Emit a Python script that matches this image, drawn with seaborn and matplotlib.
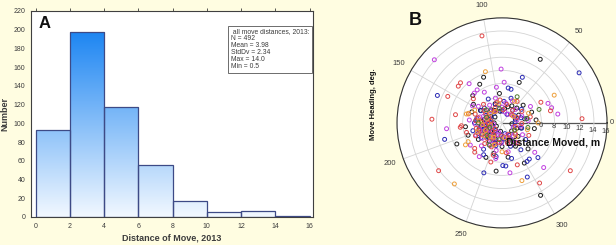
import numpy as np
import pandas as pd
import matplotlib
matplotlib.use('Agg')
import matplotlib.pyplot as plt
from matplotlib.colors import LinearSegmentedColormap
import seaborn as sns

# ---- Panel A: histogram of move distances ----
bin_edges = [0, 2, 4, 6, 8, 10, 12, 14, 16]
bin_counts = [93, 198, 117, 55, 17, 5, 6, 1]
stats_text = (" all move distances, 2013:\nN = 492\nMean = 3.98\n"
              "StdDv = 2.34\nMax = 14.0\nMin = 0.5")

# ---- Panel B: heading (deg) and distance (m) per group ----
black_head = [59, 298, 263, 299, 205, 186, 120, 112, 67, 137, 147,
              10, 25, 40, 60, 80, 95, 110, 130, 150, 165, 175, 190, 200, 215, 225, 240,
              255, 270, 285, 300, 320, 340, 355, 180, 230, 5, 20, 350, 200, 160, 245, 280, 315,
              150, 170, 185, 195, 205, 220, 235, 250, 140, 120, 100, 70, 45, 15, 345, 320,
              300, 275, 260, 210, 190, 175]
black_dist = [11.3, 12.5, 7.4, 7.0, 7.6, 5.6, 6.8, 7.5, 6.7, 6.1, 5.2,
              3.5, 2.8, 4.2, 3.0, 2.2, 4.5, 3.1, 2.6, 3.8, 2.1, 4.0, 3.3, 2.5, 4.4, 3.0, 2.3,
              4.8, 3.6, 2.9, 4.1, 3.2, 2.4, 1.5, 1.2, 1.8, 5.2, 4.8, 5.0, 5.5, 4.9, 5.8, 5.3, 5.6,
              2.0, 2.8, 1.6, 3.6, 2.9, 2.2, 3.4, 2.7, 1.4, 2.2, 1.8, 2.6, 3.2, 2.1, 3.0, 1.9,
              3.0, 2.2, 1.3, 1.0, 2.4, 3.2]

blue_head = [33, 66, 75, 157, 196, 250, 271, 275, 295, 303, 307, 316, 204,
             15, 35, 50, 70, 85, 100, 120, 140, 155, 170, 185, 195, 210, 220, 235, 250,
             260, 275, 290, 305, 325, 345, 5, 60, 130, 200, 265, 300, 240, 285, 80,
             160, 178, 190, 205, 215, 230, 245, 255, 268, 285, 300, 320, 340, 10, 30,
             90, 110, 135, 150, 225, 180, 200]
blue_dist = [14.0, 7.6, 5.3, 10.7, 9.1, 8.1, 6.5, 6.6, 9.1, 7.0, 6.9, 7.6, 4.0,
             3.0, 3.6, 2.5, 4.0, 3.3, 2.8, 4.2, 3.5, 2.7, 3.9, 2.2, 4.6, 3.4, 2.6, 4.9, 3.2,
             5.2, 2.4, 3.8, 5.0, 4.4, 3.1, 2.0, 1.5, 1.9, 1.6, 1.9, 2.2, 5.6, 5.6, 5.4,
             1.8, 2.5, 3.1, 2.0, 3.9, 1.5, 2.8, 3.6, 2.9, 1.7, 3.0, 2.6, 1.9, 3.9, 2.2,
             1.8, 3.0, 2.6, 3.7, 3.1, 4.2, 2.8]

magenta_head = [137, 91, 130, 99, 87, 23, 17, 9, 133, 127, 186, 236, 279, 313, 318,
                5, 20, 45, 65, 90, 105, 125, 145, 160, 172, 183, 195, 208, 218, 228, 238,
                248, 258, 268, 282, 295, 310, 330, 350, 150, 120, 215, 175, 260, 30, 75, 250, 190,
                155, 165, 180, 200, 212, 222, 232, 242, 252, 275, 290, 305, 320, 340, 10,
                35, 55, 80, 115, 135, 188, 205]
magenta_dist = [14.1, 8.2, 7.8, 5.5, 6.2, 7.6, 7.9, 8.6, 6.2, 6.3, 8.5, 6.2, 7.7, 9.3, 6.7,
                4.0, 3.2, 2.9, 3.7, 2.4, 3.9, 3.3, 4.4, 3.0, 2.6, 4.1, 3.0, 2.2, 3.8, 4.7, 3.2,
                2.5, 4.3, 3.1, 4.5, 3.4, 2.7, 3.6, 2.9, 5.2, 5.4, 5.9, 5.0, 5.5, 5.0, 1.7, 1.5, 1.3,
                2.2, 3.5, 2.0, 3.6, 2.8, 1.9, 2.6, 3.9, 1.9, 2.3, 2.0, 3.6, 2.5, 1.8, 2.3,
                2.0, 1.6, 3.1, 2.0, 2.6, 3.4, 4.4]

red_head = [103, 217, 302, 325, 3, 177, 154, 140, 136, 170, 28, 14, 186, 184, 227, 223, 254, 290,
            12, 30, 55, 75, 95, 115, 135, 150, 162, 178, 188, 198, 206, 214, 226, 235,
            246, 262, 278, 292, 308, 335, 358, 165, 195, 140, 220, 170, 40, 255,
            145, 158, 168, 182, 192, 203, 210, 218, 230, 240, 252, 268, 285, 300, 320,
            345, 20, 50, 85, 105, 125, 175]
red_dist = [13.6, 12.1, 10.8, 12.7, 12.2, 10.7, 9.2, 8.7, 8.8, 7.2, 6.7, 7.6, 6.4, 6.2, 6.1, 5.7, 6.2, 6.8,
            4.4, 3.5, 4.0, 2.9, 3.5, 2.5, 4.0, 2.9, 4.3, 3.1, 2.5, 3.7, 4.5, 2.9, 3.3, 2.2,
            4.0, 3.0, 4.6, 2.6, 3.9, 4.5, 3.0, 5.3, 5.6, 5.7, 1.4, 1.7, 1.9, 5.1,
            3.3, 2.2, 3.7, 2.1, 4.0, 2.6, 3.6, 1.9, 4.1, 2.7, 3.4, 2.0, 3.2, 2.0, 2.7,
            2.1, 2.4, 2.5, 2.0, 3.2, 2.1, 4.0]

orange_head = [108, 28, 166, 164, 232, 289, 209, 211,
               20, 60, 100, 140, 175, 200, 230, 270, 315, 345, 155, 250, 0,
               165, 185, 215, 240, 280, 330, 30, 120, 190, 205]
orange_dist = [8.2, 9.0, 5.6, 5.3, 11.8, 9.3, 5.9, 6.5,
               4.3, 3.8, 3.0, 2.3, 3.5, 4.0, 2.8, 4.4, 3.0, 4.0, 4.6, 3.6, 5.5,
               2.4, 3.0, 3.4, 2.5, 2.3, 2.3, 2.0, 2.0, 1.8, 2.8]

green_head = [10, 200, 330, 180, 60, 240, 300, 140, 20, 160, 220, 260, 350, 100]
green_dist = [3.8, 2.0, 2.2, 3.6, 4.6, 3.9, 3.3, 3.1, 6.0, 2.5, 3.0, 2.6, 4.0, 2.2]

groups = {
    'black': (black_head, black_dist, '#1e1e1e'),
    'blue': (blue_head, blue_dist, '#2a2ab4'),
    'magenta': (magenta_head, magenta_dist, '#c040e0'),
    'red': (red_head, red_dist, '#e04848'),
    'orange': (orange_head, orange_dist, '#eea03c'),
    'green': (green_head, green_dist, '#4f7a2e'),
}
r_ticks = [2, 4, 6, 8, 10, 12, 14, 16]
r_labels = ['', '', '6', '8', '10', '12', '14', '16']
theta_ticks = [0, 50, 100, 150, 200, 250, 300]

moves = pd.concat([
    pd.DataFrame({'heading': h, 'distance': d, 'group': name})
    for name, (h, d, _) in groups.items()
], ignore_index=True)
moves['theta'] = np.deg2rad(moves['heading'])
palette = {name: c for name, (_, _, c) in groups.items()}

sns.set_style('white')
plt.rcParams['font.family'] = ['Liberation Sans', 'DejaVu Sans']
bg = '#fffde1'
txt = '#3c3c3c'

fig = plt.figure(figsize=(6.16, 2.45), dpi=100, facecolor=bg)

# ---------- Panel A ----------
ax1 = fig.add_axes([0.0503, 0.1143, 0.4578, 0.841])
centers = [(a + b) / 2 for a, b in zip(bin_edges[:-1], bin_edges[1:])]
sns.histplot(x=centers, weights=bin_counts, bins=bin_edges, ax=ax1,
             edgecolor='#3d4a86', linewidth=0.9, facecolor='none', alpha=1)

# vertical blue gradient clipped to each bar
grad_cmap = LinearSegmentedColormap.from_list('g', ['#f2f8ff', '#1a84f2'])
grad = np.linspace(0, 1, 256).reshape(-1, 1)
for p in ax1.patches:
    x0 = p.get_x()
    w = p.get_width()
    im = ax1.imshow(grad, extent=[x0, x0 + w, 0, 200], origin='lower',
                    aspect='auto', cmap=grad_cmap, zorder=p.get_zorder() - 0.1)
    im.set_clip_path(p)
    p.set_facecolor('none')

ax1.set_xlim(-0.27, 16.2)
ax1.set_ylim(0, 220)
ax1.set_xticks(range(0, 17, 2))
ax1.set_yticks(range(0, 221, 20))
ax1.tick_params(labelsize=5, colors=txt, length=2, width=0.6, top=True, direction='out', pad=2)
ax1.set_facecolor('white')
for s in ax1.spines.values():
    s.set_color('#404040')
    s.set_linewidth(0.8)
ax1.set_xlabel('Distance of Move, 2013', fontsize=6.5, fontweight='bold', color=txt, labelpad=3)
ax1.set_ylabel('Number', fontsize=6.5, fontweight='bold', color=txt, labelpad=3)
ax1.text(0.028, 0.917, 'A', transform=ax1.transAxes, fontsize=12, fontweight='bold', color='#111111')
ax1.text(0.708, 0.915, stats_text, transform=ax1.transAxes, fontsize=4.9, va='top', ha='left',
         color=txt, linespacing=1.0,
         bbox=dict(boxstyle='square,pad=0.4', facecolor='white', edgecolor='#555555', linewidth=0.6))

# ---------- Panel B ----------
ax2 = fig.add_axes([0.6445, 0.0694, 0.341, 0.858], projection='polar')
ax2.set_facecolor('white')
sns.scatterplot(data=moves, x='theta', y='distance', hue='group', palette=palette,
                marker='o', s=8, linewidth=0.7, legend=False, ax=ax2)
# hollow markers, group colours as edges
coll = ax2.collections[0]
coll.set_edgecolors(coll.get_facecolors())
coll.set_facecolors('none')

ax2.set_ylim(0, 16)
ax2.set_rticks(r_ticks)
ax2.set_yticklabels([])
for r, lab in zip(r_ticks, r_labels):
    ax2.text(np.deg2rad(-4.5), r - 0.15, lab, fontsize=5.5, color=txt, ha='center', va='center')
# the 0 label sits right at the figure edge, so it is left-aligned just outside the rim
ax2.set_thetagrids(theta_ticks, [''] + [str(a) for a in theta_ticks[1:]])
ax2.text(0, 16.35, str(theta_ticks[0]), fontsize=5.5, color=txt, ha='left', va='center')
ax2.tick_params(axis='x', labelsize=5.5, colors=txt, pad=-0.5)
ax2.grid(color='#d4d4d4', linewidth=0.6)
ax2.xaxis.get_gridlines()[0].set_color('#555555')
ax2.xaxis.get_gridlines()[0].set_linewidth(0.9)
ax2.spines['polar'].set_color('#333333')
ax2.spines['polar'].set_linewidth(0.8)
ax2.set_xlabel('')
ax2.set_ylabel('')

fig.text(0.664, 0.898, 'B', fontsize=13, fontweight='bold', color='#111111')
fig.text(0.898, 0.42, 'Distance Moved, m', fontsize=7.5, fontweight='bold', color='#111111',
         ha='center', va='center')
fig.text(0.606, 0.575, 'Move Heading, deg.', fontsize=5.5, fontweight='bold', color='#111111',
         ha='center', va='center', rotation=90)

fig.savefig('out.png', dpi=100, facecolor=bg)
